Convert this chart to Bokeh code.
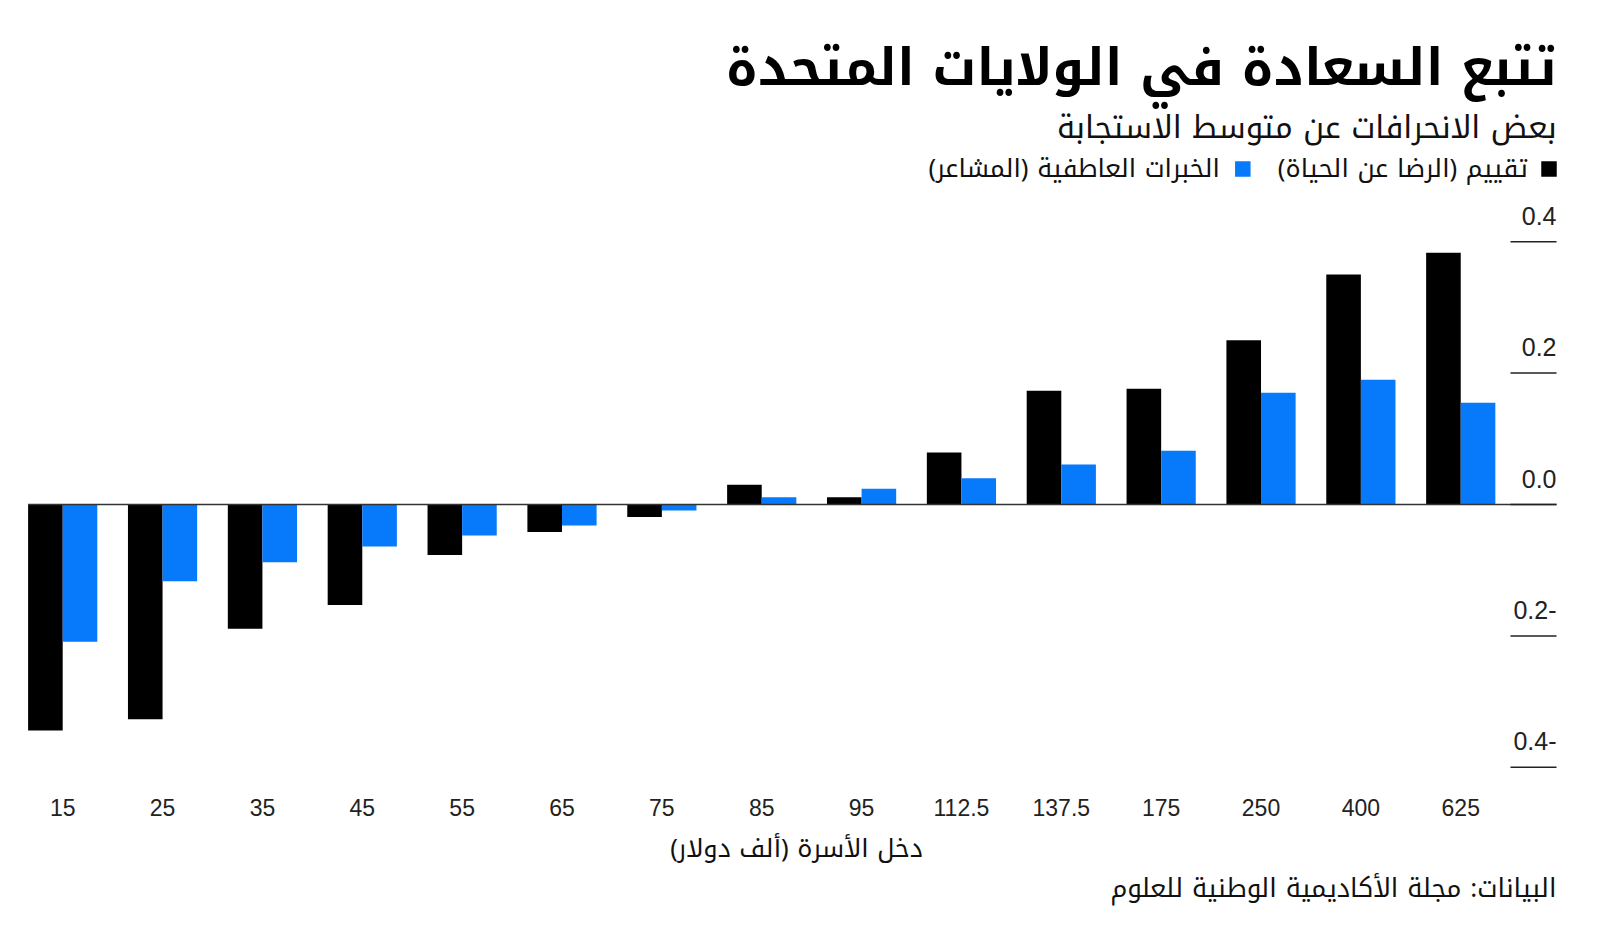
from bokeh.plotting import figure
from bokeh.models import Range1d, ColumnDataSource
from bokeh.core.properties import value
from bokeh.transform import dodge
from bokeh.embed import file_html
from bokeh.resources import INLINE

# ---------------- data ----------------
categories = ["15", "25", "35", "45", "55", "65", "75", "85", "95",
              "112.5", "137.5", "175", "250", "400", "625"]
life_evaluation = [-0.344, -0.327, -0.189, -0.153, -0.077, -0.042, -0.019,
                   0.030, 0.011, 0.079, 0.173, 0.176, 0.250, 0.350, 0.383]
emotional_wellbeing = [-0.209, -0.117, -0.088, -0.064, -0.047, -0.032, -0.009,
                       0.011, 0.024, 0.040, 0.061, 0.082, 0.170, 0.190, 0.155]
y_ticks = [-0.4, -0.2, 0.0, 0.2, 0.4]
y_tick_labels = ["0.4-", "0.2-", "0.0", "0.2", "0.4"]

title_text = "تتبع السعادة في الولايات المتحدة"
subtitle_text = "بعض الانحرافات عن متوسط الاستجابة"
legend_labels = ["تقييم (الرضا عن الحياة)", "الخبرات العاطفية (المشاعر)"]
legend_colors = ["#000000", "#0779fb"]
x_axis_label = "دخل الأسرة (ألف دولار)"
source_text = "البيانات: مجلة الأكاديمية الوطنية للعلوم"

AR = "Noto Kufi Arabic, Noto Sans Arabic, DejaVu Sans, sans-serif"
LAT = "Liberation Sans"

# ---------------- geometry (canvas pixels -> data) ----------------
W, H = 1584, 913
SX, X0 = 99.86, 62.2      # px per category step, px of first category
SY, Y0 = 657.0, 504.0     # px per y unit, px of zero line


def dx(px):
    return (px - X0) / SX


def dy(py):
    return (Y0 - py) / SY


R = dx(1556)              # right edge of the content

idx = list(range(len(categories)))
src = ColumnDataSource(dict(idx=idx, life=life_evaluation, emo=emotional_wellbeing))

p = figure(width=W, height=H,
           x_range=Range1d(dx(0), dx(W)), y_range=Range1d(dy(H), dy(0)),
           output_backend="svg", toolbar_location=None,
           min_border_left=0, min_border_right=0, min_border_top=0, min_border_bottom=0)
p.outline_line_color = None
p.grid.visible = False
p.axis.visible = False
p.background_fill_color = "white"
p.border_fill_color = "white"

bw = 34.6 / SX
p.vbar(x=dodge("idx", -bw / 2), top="life", bottom=0, width=bw, source=src,
       fill_color=legend_colors[0], line_color=None)
p.vbar(x=dodge("idx", bw / 2), top="emo", bottom=0, width=bw, source=src,
       fill_color=legend_colors[1], line_color=None)

# zero line
p.segment(x0=[dx(27.6)], x1=[R], y0=[0], y1=[0], line_color="#333333", line_width=1.6)

# y ticks (right side, labels above the tick line)
n = len(y_ticks)
p.segment(x0=[dx(1510)] * n, x1=[R] * n, y0=y_ticks, y1=y_ticks,
          line_color="#222222", line_width=1.5)
p.text(x=[R] * n, y=y_ticks, text=y_tick_labels,
       text_align="right", text_baseline="alphabetic", y_offset=-26,
       text_font=value(LAT), text_font_size="25px", text_color="#222222")

# x tick labels
p.text(x=idx, y=[dy(807)] * len(idx), text=categories,
       text_align="center", text_baseline="alphabetic",
       text_font=value(LAT), text_font_size="23px", text_color="#222222")

# x axis label
p.text(x=[dx(796)], y=[dy(848)], text=[x_axis_label],
       text_align="center", text_baseline="middle",
       text_font=value(AR), text_font_size="25.5px", text_color="#111111")

# legend (glyph on the right of each label, RTL)
ly = dy(168.4)
p.scatter(x=[dx(1548.5), dx(1242.3)], y=[ly, ly],
          marker="square", size=15.5, color=legend_colors, line_color=None)
p.text(x=[dx(1527.5), dx(1219.4)], y=[ly, ly], text=legend_labels,
       text_align="right", text_baseline="middle",
       text_font=value(AR), text_font_size="25.5px", text_color="#111111")

# title and subtitle
p.text(x=[R], y=[dy(67)], text=[title_text],
       text_align="right", text_baseline="middle",
       text_font=value(AR), text_font_size="51px", text_font_style="bold",
       text_color="#000000")
p.text(x=[R], y=[dy(126.5)], text=[subtitle_text],
       text_align="right", text_baseline="middle",
       text_font=value(AR), text_font_size="31px", text_color="#111111")

# source
p.text(x=[R], y=[dy(888)], text=[source_text],
       text_align="right", text_baseline="middle",
       text_font=value(AR), text_font_size="26px", text_color="#111111")

open("out.html", "w").write(file_html(p, INLINE))
